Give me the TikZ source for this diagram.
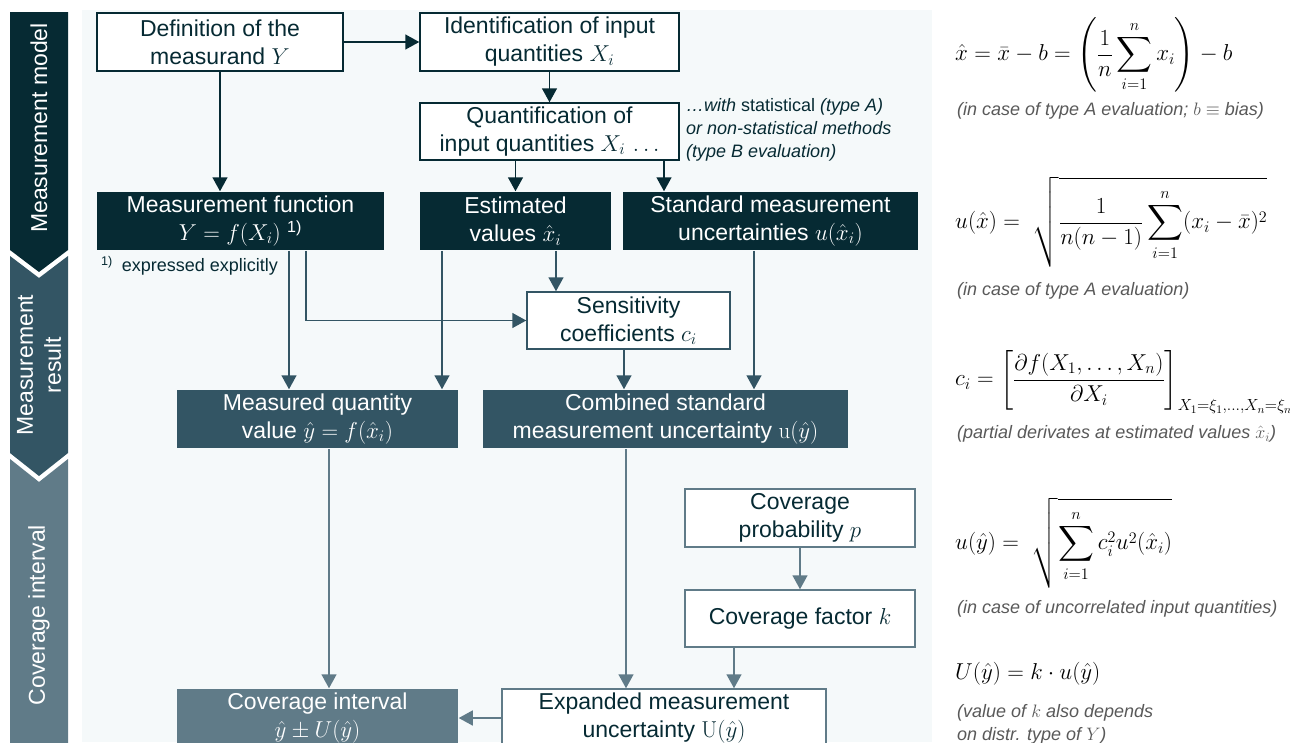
\RequirePackage{fix-cm}
\documentclass[tikz,border=0pt]{standalone}
\usepackage{amsmath}
\usepackage[no-math]{fontspec}
\setmainfont{Liberation Sans}
\usetikzlibrary{arrows.meta}
\definecolor{cdark}{HTML}{062A33}
\definecolor{cmid}{HTML}{335564}
\definecolor{clight}{HTML}{607B88}
\definecolor{cpanel}{HTML}{F5F9FA}
\definecolor{cgray}{HTML}{595959}
\newcommand\mybig{\fontsize{23}{28}\selectfont}
\newcommand\mynote{\fontsize{18}{23}\selectfont}
\tikzset{
  boxbase/.style={rectangle, inner sep=0pt, align=center, font=\mybig, line width=1.5pt},
  wdark/.style={boxbase, draw=cdark, fill=white, text=cdark},
  wmid/.style={boxbase, draw=cmid, fill=white, text=cdark},
  wlight/.style={boxbase, draw=clight, fill=white, text=cdark},
  fdark/.style={boxbase, fill=cdark, text=white},
  fmid/.style={boxbase, fill=cmid, text=white},
  flight/.style={boxbase, fill=clight, text=white},
  arrtip/.style={-{Triangle[length=14pt,width=15pt]}},
  adark/.style={draw=cdark, line width=1.5pt, arrtip},
  amid/.style={draw=cmid, line width=1.5pt, arrtip},
  alight/.style={draw=clight, line width=1.5pt, arrtip},
  sidetext/.style={rotate=90, text=white, font=\mybig, align=center, inner sep=0pt},
  eqn/.style={anchor=west, inner sep=0pt, font=\mybig, text=black},
  capt/.style={anchor=west, inner sep=0pt, font=\mynote\itshape, text=cgray, align=left},
}
\begin{document}
\begin{tikzpicture}[x=1pt,y=-1pt]
\useasboundingbox (0,0) rectangle (1290,742);
\begin{scope}
\clip (0,0) rectangle (1290,742);
\fill[white] (0,0) rectangle (1290,742);
\fill[cpanel] (82,10) rectangle (932,742);
% sidebar
\fill[cdark] (10,12) -- (68,12) -- (68,250) -- (39,272) -- (10,250) -- cycle;
\fill[cmid] (10,256) -- (39,278) -- (68,256) -- (68,453) -- (39,476) -- (10,453) -- cycle;
\fill[clight] (10,459) -- (39,482) -- (68,459) -- (68,750) -- (10,750) -- cycle;
\node[sidetext] (s1) at (39,128) {Measurement model};
\node[sidetext] (s2) at (39,365) {Measurement\\result};
\node[sidetext] (s3) at (39,615) {Coverage interval};
% x positions for connectors
\coordinate (xq) at (664,0);
\coordinate (x289) at (289,0);
\coordinate (x306) at (306,0);
\coordinate (x442) at (442,0);
\coordinate (x556) at (556,0);
\coordinate (x754) at (754,0);
\coordinate (x624) at (624,0);
\coordinate (x329) at (329,0);
\coordinate (x626) at (626,0);
\coordinate (x734) at (734,0);
% boxes
\node[wdark, minimum width=246pt, minimum height=58pt] (def) at (220,42) {Definition of the\\measurand $Y$};
\node[wdark, minimum width=259pt, minimum height=58pt] (ident) at (549.5,42) {Identification of input\\quantities $X_i$};
\node[wdark, minimum width=259pt, minimum height=57pt] (quant) at (549.5,131.5) {Quantification of\\input quantities $X_i\,\ldots$};
\node[fdark, minimum width=287pt, minimum height=58pt] (mf) at (240.5,221) {Measurement function\\$Y=f(X_i)$ \textsuperscript{1)}};
\node[fdark, minimum width=191pt, minimum height=58pt] (est) at (515.5,221) {Estimated\\values $\hat{x}_i$};
\node[fdark, minimum width=295pt, minimum height=58pt] (std) at (770.5,221) {Standard measurement\\uncertainties $u(\hat{x}_i)$};
\node[wmid, minimum width=203pt, minimum height=57pt] (sens) at (628.5,320.5) {Sensitivity\\coefficients $c_i$};
\node[fmid, minimum width=281pt, minimum height=58pt] (meas) at (317.5,419) {Measured quantity\\value $\hat{y}=f(\hat{x}_i)$};
\node[fmid, minimum width=365pt, minimum height=58pt] (comb) at (665.5,419) {Combined standard\\measurement uncertainty $\mathrm{u}(\hat{y})$};
\node[wlight, minimum width=230pt, minimum height=58pt] (prob) at (800,518) {Coverage\\probability $p$};
\node[wlight, minimum width=230pt, minimum height=57pt] (fact) at (800,618.5) {Coverage factor $k$};
\node[flight, minimum width=281pt, minimum height=58pt] (covint) at (317.5,718) {Coverage interval\\$\hat{y}\pm U(\hat{y})$};
\node[wlight, minimum width=324pt, minimum height=58pt] (exp) at (664,718) {Expanded measurement\\uncertainty $\mathrm{U}(\hat{y})$};
% notes
\node[anchor=west, inner sep=0pt, font=\mynote, text=cdark] (fn) at (101,266) {\textsuperscript{1)}\hspace{9pt}expressed explicitly};
\node[anchor=west, align=left, inner sep=0pt, font=\mynote, text=cdark] (note) at (686,130) {\textit{…with} statistical \textit{(type A)}\\\textit{or non-statistical methods}\\\textit{(type B evaluation)}};
% connectors top
\draw[adark] (def.east) -- (ident.west);
\draw[adark] (def.south) -- (def.south |- mf.north);
\draw[adark] (ident.south) -- (quant.north);
\draw[adark] (quant.south -| est.north) -- (est.north);
\draw[adark] (quant.south -| xq) -- (std.north -| xq);
% connectors middle
\draw[amid] (mf.south -| x289) -- (meas.north -| x289);
\draw[amid] (mf.south -| x306) |- (sens.west);
\draw[amid] (est.south -| x442) -- (meas.north -| x442);
\draw[amid] (est.south -| x556) -- (sens.north -| x556);
\draw[amid] (std.south -| x754) -- (comb.north -| x754);
\draw[amid] (sens.south -| x624) -- (comb.north -| x624);
% connectors bottom
\draw[alight] (meas.south -| x329) -- (covint.north -| x329);
\draw[alight] (comb.south -| x626) -- (exp.north -| x626);
\draw[alight] (prob.south) -- (fact.north);
\draw[alight] (fact.south -| x734) -- (exp.north -| x734);
\draw[alight] (exp.west) -- (covint.east |- exp.west);
% formulas
\node[eqn] (f1) at (955,55) {$\displaystyle \hat{x}=\bar{x}-b=\left(\frac{1}{n}\sum_{i=1}^{n}x_i\right)-b$};
\node[capt] (c1) at (957,111) {(in case of type A evaluation; $b\equiv$ bias)};
\node[eqn] (f2) at (955,222) {$\displaystyle u(\hat{x})=\;\sqrt{\frac{1}{n(n-1)}\sum_{i=1}^{n}(x_i-\bar{x})^2}$};
\node[capt] (c2) at (957,291) {(in case of type A evaluation)};
\node[eqn] (f3) at (955,382) {$\displaystyle c_i=\left[\frac{\partial f(X_1,\ldots,X_n)}{\partial X_i}\right]_{X_1=\xi_1,\ldots,X_n=\xi_n}$};
\node[capt] (c3) at (957,434) {(partial derivates at estimated values $\hat{x}_i$)};
\node[eqn] (f4) at (955,543) {$\displaystyle u(\hat{y})=\;\sqrt{\sum_{i=1}^{n}c_i^2u^2(\hat{x}_i)}$};
\node[capt] (c4) at (957,609) {(in case of uncorrelated input quantities)};
\node[eqn] (f5) at (955,674) {$U(\hat{y})=k\cdot u(\hat{y})$};
\node[capt] (c5) at (957,724) {(value of $k$ also depends\\on distr. type of $Y$)};
\end{scope}
\end{tikzpicture}
\end{document}
